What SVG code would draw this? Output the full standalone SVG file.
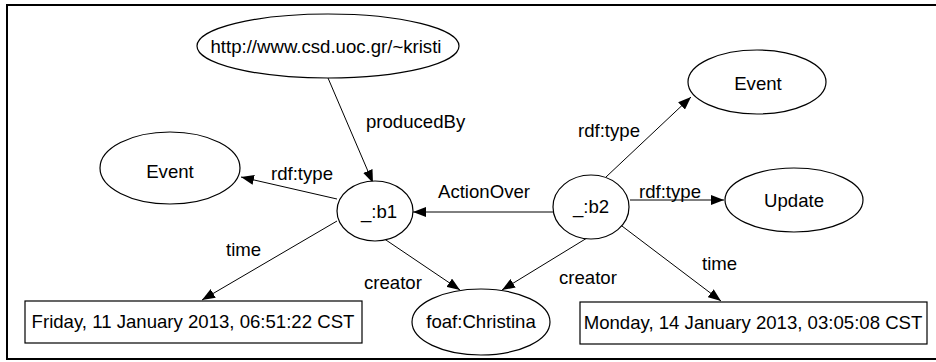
<svg xmlns="http://www.w3.org/2000/svg" width="936" height="362" viewBox="0 0 936 362">
  <style>
    .node { fill: #fff; stroke: #000; stroke-width: 1.2; }
    .lbl { font-family: "Liberation Sans", Arial, sans-serif; font-size: 18.6px; fill: #000; }
    .mid { text-anchor: middle; }
    .edge { stroke: #000; stroke-width: 1; fill: none; marker-end: url(#arrow); }
  </style>
  <defs>
    <marker id="arrow" markerUnits="userSpaceOnUse" markerWidth="14" markerHeight="10" refX="13" refY="5" orient="auto">
      <path d="M0,0 L13,5 L0,10 Z" fill="#000"/>
    </marker>
  </defs>

  <!-- outer frame -->
  <rect x="7" y="5" width="940" height="354" fill="#fff" stroke="#000" stroke-width="2"/>

  <!-- connectors -->
  <g id="connectors">
    <line class="edge" x1="328" y1="78" x2="373" y2="183"/>
    <line class="edge" x1="337" y1="199" x2="241" y2="177"/>
    <line class="edge" x1="553" y1="212" x2="413" y2="212"/>
    <line class="edge" x1="606" y1="177" x2="691" y2="97"/>
    <line class="edge" x1="630" y1="200" x2="724" y2="200"/>
    <line class="edge" x1="337" y1="221" x2="202" y2="300"/>
    <line class="edge" x1="383" y1="238" x2="460" y2="290"/>
    <line class="edge" x1="587" y1="238" x2="502" y2="290"/>
    <line class="edge" x1="618" y1="223" x2="721" y2="301"/>

    <text class="lbl" x="366" y="128">producedBy</text>
    <text class="lbl" x="271" y="180">rdf:type</text>
    <text class="lbl" x="438" y="198">ActionOver</text>
    <text class="lbl" x="578" y="137">rdf:type</text>
    <text class="lbl" x="639" y="198">rdf:type</text>
    <text class="lbl" x="226" y="256">time</text>
    <text class="lbl" x="364" y="289">creator</text>
    <text class="lbl" x="559" y="284">creator</text>
    <text class="lbl" x="702" y="270">time</text>
  </g>

  <g id="url">
    <ellipse class="node" cx="328" cy="46" rx="131" ry="32"/>
    <text class="lbl mid" x="326" y="53">http://www.csd.uoc.gr/~kristi</text>
  </g>
  <g id="event-left">
    <ellipse class="node" cx="170" cy="168" rx="70" ry="36"/>
    <text class="lbl mid" x="170" y="178">Event</text>
  </g>
  <g id="b1">
    <ellipse class="node" cx="375" cy="211" rx="38" ry="30"/>
    <text class="lbl mid" x="379" y="218">_:b1</text>
  </g>
  <g id="b2">
    <ellipse class="node" cx="591" cy="207" rx="38" ry="32"/>
    <text class="lbl mid" x="591" y="213">_:b2</text>
  </g>
  <g id="event-right">
    <ellipse class="node" cx="757" cy="82" rx="69" ry="32"/>
    <text class="lbl mid" x="758" y="90">Event</text>
  </g>
  <g id="update">
    <ellipse class="node" cx="794" cy="200" rx="69" ry="32"/>
    <text class="lbl mid" x="794" y="207">Update</text>
  </g>
  <g id="christina">
    <ellipse class="node" cx="481" cy="322" rx="69" ry="33"/>
    <text class="lbl mid" x="481" y="328">foaf:Christina</text>
  </g>
  <g id="time-b1">
    <rect class="node" x="25" y="301" width="337" height="42"/>
    <text class="lbl mid" x="193" y="328">Friday, 11 January 2013, 06:51:22 CST</text>
  </g>
  <g id="time-b2">
    <rect class="node" x="580" y="302" width="347" height="42"/>
    <text class="lbl mid" x="753" y="329">Monday, 14 January 2013, 03:05:08 CST</text>
  </g>
</svg>
